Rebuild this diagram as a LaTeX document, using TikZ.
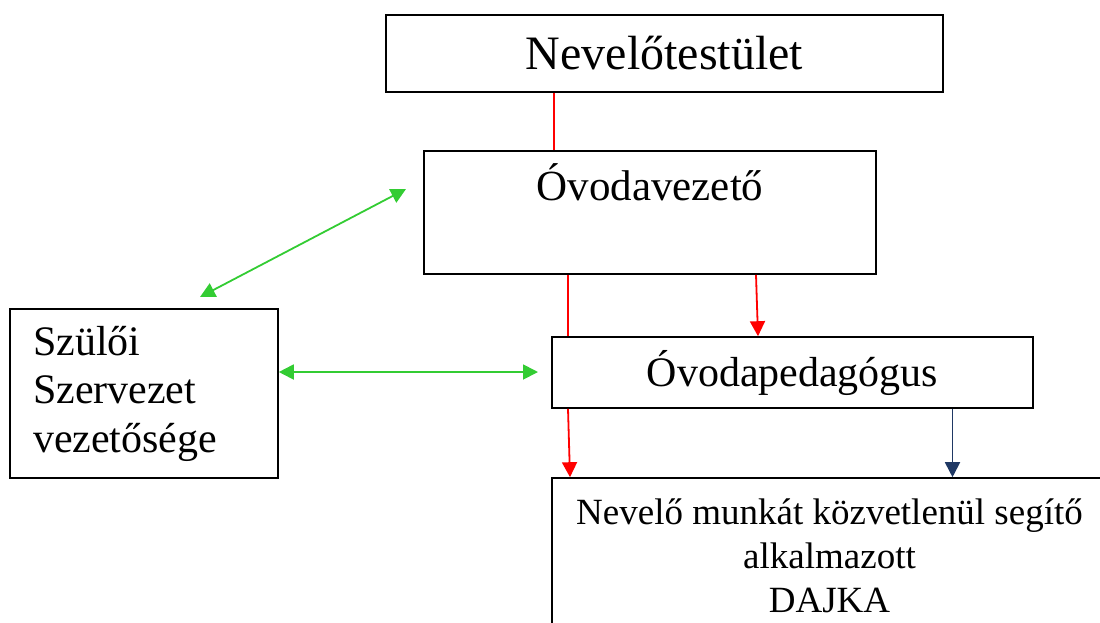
\documentclass[tikz,border=0pt]{standalone}
\usepackage{fontspec}
\setmainfont{Liberation Serif}
\usetikzlibrary{arrows.meta}

\definecolor{linkgreen}{RGB}{51,204,51}
\definecolor{linkred}{RGB}{255,0,0}
\definecolor{linknavy}{RGB}{31,56,100}

\tikzset{
    box/.style={draw, rectangle, line width=1.6pt, inner sep=0pt},
    tip/.style={-{Triangle[length=15pt, width=15pt]}},
    bothtips/.style={{Triangle[length=15pt, width=15pt]}-{Triangle[length=15pt, width=15pt]}},
}

\begin{document}
\begin{tikzpicture}[x=1pt, y=-1pt]
    \useasboundingbox (0, 0) rectangle (1100, 622);
    \clip (0, 0) rectangle (1100, 622);

    % Nodes
    \node[box, minimum width=557pt, minimum height=77pt, font=\fontsize{48}{56}\selectfont] (NT) at (664.5, 53.5) {Nevelőtestület};
    \node[box, minimum width=452pt, text height=49pt, text depth=74pt, font=\fontsize{43}{50}\selectfont] (OV) at (650, 212.5) {Óvodavezető};
    \node[box, minimum width=481pt, minimum height=71pt, font=\fontsize{42}{48}\selectfont] (OP) at (792.5, 372.5) {Óvodapedagógus};
    \node[box, text width=222pt, inner xsep=23pt, minimum height=169pt, align=left, font=\fontsize{42}{48.5}\selectfont] (SZ) at (144, 393.5) {Szülői\\Szervezet\\vezetősége};
    \node[box, minimum width=555pt, minimum height=200pt] (DJ) at (829.5, 578) {};
    \node[align=center, inner sep=0pt, anchor=north, font=\fontsize{37}{44}\selectfont] (DJtext) at (829.5, 499) {Nevelő munkát közvetlenül segítő\\alkalmazott\\DAJKA};

    % Free ends
    \coordinate (upleft) at (200, 297);
    \coordinate (upright) at (406, 189);
    \coordinate (pedleft) at (538, 372);

    % Edges
    \draw[linkred, line width=1.8pt] ([xshift=-110.5pt]NT.south) -- ([xshift=-110.5pt]NT.south |- OV.north);
    \draw[linkred, line width=1.8pt] ([xshift=-82pt]OV.south) -- ([xshift=-82pt]OV.south |- OP.north);
    \draw[linkred, line width=1.8pt, tip] ([xshift=106pt]OV.south) -- ([xshift=-34.5pt]OP.north);
    \draw[linkred, line width=1.8pt, tip] ([xshift=-224.5pt]OP.south) -- ([xshift=-259.5pt]DJ.north);
    \draw[linknavy, line width=1.8pt, tip] ([xshift=160pt]OP.south) -- ([xshift=123pt]DJ.north);
    \draw[linkgreen, line width=1.8pt, bothtips] (upleft) -- (upright);
    \draw[linkgreen, line width=1.8pt, bothtips] (SZ.east |- pedleft) -- (pedleft);
\end{tikzpicture}
\end{document}
